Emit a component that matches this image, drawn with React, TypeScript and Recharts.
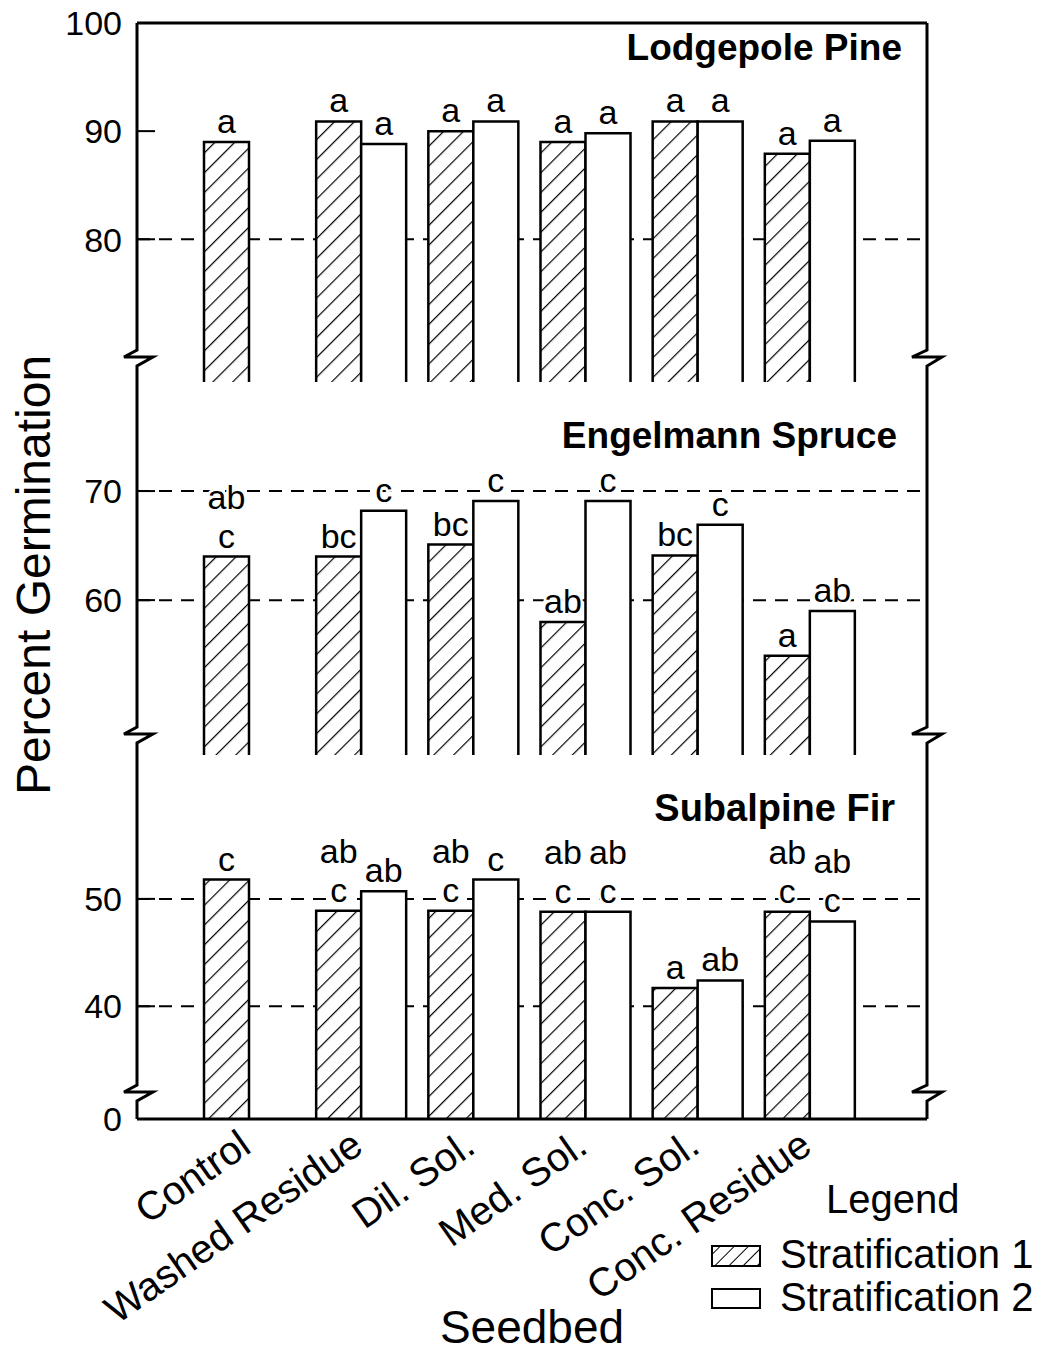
import React from "react";
import { BarChart, Bar, XAxis, YAxis, CartesianGrid, LabelList } from "recharts";

const categories = ["Control", "Washed Residue", "Dil. Sol.", "Med. Sol.", "Conc. Sol.", "Conc. Residue"];

// Lodgepole Pine
const pineS1 = [89, 90.9, 90, 89, 90.9, 87.9];
const pineS2 = [null, 88.8, 90.9, 89.8, 90.9, 89.1];
const pineS1Letters = ["a", "a", "a", "a", "a", "a"];
const pineS2Letters = ["", "a", "a", "a", "a", "a"];

// Engelmann Spruce
const spruceS1 = [64, 64, 65.1, 58, 64.1, 54.9];
const spruceS2 = [null, 68.2, 69.1, 69.1, 66.9, 59];
const spruceS1Letters = ["ab c", "bc", "bc", "ab", "bc", "a"];
const spruceS2Letters = ["", "c", "c", "c", "c", "ab"];

// Subalpine Fir
const firS1 = [51.8, 48.9, 48.9, 48.8, 41.7, 48.8];
const firS2 = [null, 50.7, 51.8, 48.8, 42.4, 47.9];
const firS1Letters = ["c", "ab c", "ab c", "ab c", "a", "ab c"];
const firS2Letters = ["", "ab", "c", "ab c", "ab", "ab c"];

const pineTicks = [80, 90, 100];
const spruceTicks = [60, 70];
const firTicks = [29.5, 40, 50]; // bottom tick is shown as "0" (broken axis)

const W = 1054;
const H = 1356;
const LEFT = 137;
const RIGHT = 927;
const XH = 200;
const FONT = "'Liberation Sans', Arial, Helvetica, sans-serif";

type Row = { name: string; s1: number | null; s2: number | null; l1: string; l2: string };

function buildRows(s1: (number | null)[], s2: (number | null)[], l1: string[], l2: string[]): Row[] {
  return categories.map((name, i) => ({ name, s1: s1[i], s2: s2[i], l1: l1[i], l2: l2[i] }));
}

function OpenBar(props: any) {
  const { x, y, width, height, fill } = props;
  if (!height || height <= 0 || !isFinite(y)) return null;
  return (
    <g>
      <rect x={x} y={y} width={width} height={height} fill={fill} stroke="none" />
      <path
        d={`M${x},${y + height}V${y}H${x + width}V${y + height}`}
        fill="none"
        stroke="#000"
        strokeWidth={2.5}
      />
    </g>
  );
}

function Letters(props: any) {
  const vb = props.viewBox || props;
  const { x, y, width } = vb;
  const value = props.value;
  if (!value) return null;
  const lines = String(value).split(" ");
  const cx = x + width / 2;
  return (
    <g>
      {lines.map((t, k) => (
        <text
          key={k}
          x={cx}
          y={y - 9 - (lines.length - 1 - k) * 39}
          textAnchor="middle"
          fontSize={34}
          fontFamily={FONT}
          fill="#000"
          stroke="#fff"
          strokeWidth={5}
          paintOrder="stroke"
        >
          {t}
        </text>
      ))}
    </g>
  );
}

function YTick(props: any) {
  const { y, payload } = props;
  const v = payload.value;
  const label = v < 30 ? "0" : String(v);
  const showTick = v !== 100 && v >= 30;
  return (
    <g>
      {showTick && <line x1={LEFT} x2={LEFT + 18} y1={y} y2={y} stroke="#000" strokeWidth={2} />}
      <text x={LEFT - 15} y={y} dy="0.36em" textAnchor="end" fontSize={34} fontFamily={FONT} fill="#000">
        {label}
      </text>
    </g>
  );
}

function XTick(props: any) {
  const { x, y, payload } = props;
  const ax = x + 4;
  const ay = y + 32;
  return (
    <text
      x={ax}
      y={ay}
      textAnchor="end"
      transform={`rotate(-35 ${ax} ${ay})`}
      fontSize={40}
      fontFamily={FONT}
      fill="#000"
    >
      {payload.value}
    </text>
  );
}

function Panel({
  id,
  rows,
  domain,
  ticks,
  grid,
  top,
  bottom,
  showX,
}: {
  id: string;
  rows: Row[];
  domain: [number, number];
  ticks: number[];
  grid: number[];
  top: number;
  bottom: number;
  showX?: boolean;
}) {
  return (
    <div style={{ position: "absolute", left: 0, top: 0 }}>
      <BarChart
        width={W}
        height={H}
        data={rows}
        margin={{ top, right: W - RIGHT, bottom: H - bottom - (showX ? XH : 0), left: 0 }}
        barCategoryGap={11}
        barGap={0}
      >
        <defs>
          <pattern
            id={`hatch-${id}`}
            width="14"
            height="14"
            patternUnits="userSpaceOnUse"
            patternTransform="rotate(45)"
          >
            <rect width="14" height="14" fill="#fff" />
            <line x1="0" y1="0" x2="0" y2="14" stroke="#000" strokeWidth="2.4" />
          </pattern>
        </defs>
        <CartesianGrid
          vertical={false}
          horizontalValues={grid}
          stroke="#000"
          strokeWidth={2}
          strokeDasharray="13 9"
        />
        <XAxis
          dataKey="name"
          type="category"
          hide={!showX}
          height={XH}
          padding={{ left: 56, right: 61 }}
          axisLine={{ stroke: "#000", strokeWidth: 3 }}
          tickLine={false}
          tickSize={0}
          tickMargin={0}
          interval={0}
          tick={<XTick />}
        />
        <YAxis
          type="number"
          width={LEFT}
          domain={domain}
          allowDataOverflow
          ticks={ticks}
          interval={0}
          axisLine={false}
          tickLine={false}
          tick={<YTick />}
        />
        <Bar dataKey="s1" fill={`url(#hatch-${id})`} shape={OpenBar} isAnimationActive={false}>
          <LabelList dataKey="l1" content={Letters} />
        </Bar>
        <Bar dataKey="s2" fill="#fff" shape={OpenBar} isAnimationActive={false}>
          <LabelList dataKey="l2" content={Letters} />
        </Bar>
      </BarChart>
    </div>
  );
}

function breakPath(x: number, y: number, l: number, r: number) {
  return `V${y - 7}L${x - l},${y}H${x + r}L${x},${y + 9}`;
}

const breaks = [357, 734, 1092];

function Overlay() {
  const leftD =
    `M${LEFT},23` + breaks.map((b) => breakPath(LEFT, b, 13, 16)).join("") + `V1119`;
  const rightD =
    `M${RIGHT},23` + breaks.map((b) => breakPath(RIGHT, b, 15, 15)).join("") + `V1119`;
  return (
    <svg
      width={W}
      height={H}
      style={{ position: "absolute", left: 0, top: 0, pointerEvents: "none" }}
      fontFamily={FONT}
    >
      <defs>
        <pattern id="hatch-legend" width="10" height="10" patternUnits="userSpaceOnUse" patternTransform="rotate(45)">
          <rect width="10" height="10" fill="#fff" />
          <line x1="0" y1="0" x2="0" y2="10" stroke="#000" strokeWidth="2" />
        </pattern>
      </defs>
      <path d={`M${LEFT},23H${RIGHT}`} stroke="#000" strokeWidth={3} fill="none" />
      <path d={leftD} stroke="#000" strokeWidth={3} fill="none" strokeLinejoin="miter" />
      <path d={rightD} stroke="#000" strokeWidth={3} fill="none" strokeLinejoin="miter" />

      <text x={902} y={60} textAnchor="end" fontSize={37} fontWeight="bold">Lodgepole Pine</text>
      <text x={897} y={448} textAnchor="end" fontSize={37} fontWeight="bold">Engelmann Spruce</text>
      <text x={895} y={821} textAnchor="end" fontSize={38} fontWeight="bold">Subalpine Fir</text>

      <text x={50} y={575} textAnchor="middle" fontSize={48} transform="rotate(-90 50 575)">
        Percent Germination
      </text>
      <text x={532} y={1343} textAnchor="middle" fontSize={46}>Seedbed</text>

      <text x={826} y={1213} fontSize={40}>Legend</text>
      <rect x={712} y={1246} width={48} height={20} fill="url(#hatch-legend)" stroke="#000" strokeWidth={2} />
      <text x={780} y={1268} fontSize={40}>Stratification 1</text>
      <rect x={712} y={1289} width={48} height={19} fill="#fff" stroke="#000" strokeWidth={2} />
      <text x={780} y={1311} fontSize={40}>Stratification 2</text>
    </svg>
  );
}

export default function App() {
  const pineRows = buildRows(pineS1, pineS2, pineS1Letters, pineS2Letters);
  const spruceRows = buildRows(spruceS1, spruceS2, spruceS1Letters, spruceS2Letters);
  const firRows = buildRows(firS1, firS2, firS1Letters, firS2Letters);
  return (
    <div style={{ position: "absolute", left: 0, top: 0, width: W, height: H, background: "#fff" }}>
      <Panel id="pine" rows={pineRows} domain={[66.8, 100]} ticks={pineTicks} grid={[80]} top={23} bottom={382} />
      <Panel id="spruce" rows={spruceRows} domain={[45.8, 80]} ticks={spruceTicks} grid={[60, 70]} top={382} bottom={755} />
      <Panel id="fir" rows={firRows} domain={[29.5, 63.4]} ticks={firTicks} grid={[40, 50]} top={755} bottom={1119} showX />
      <Overlay />
    </div>
  );
}
